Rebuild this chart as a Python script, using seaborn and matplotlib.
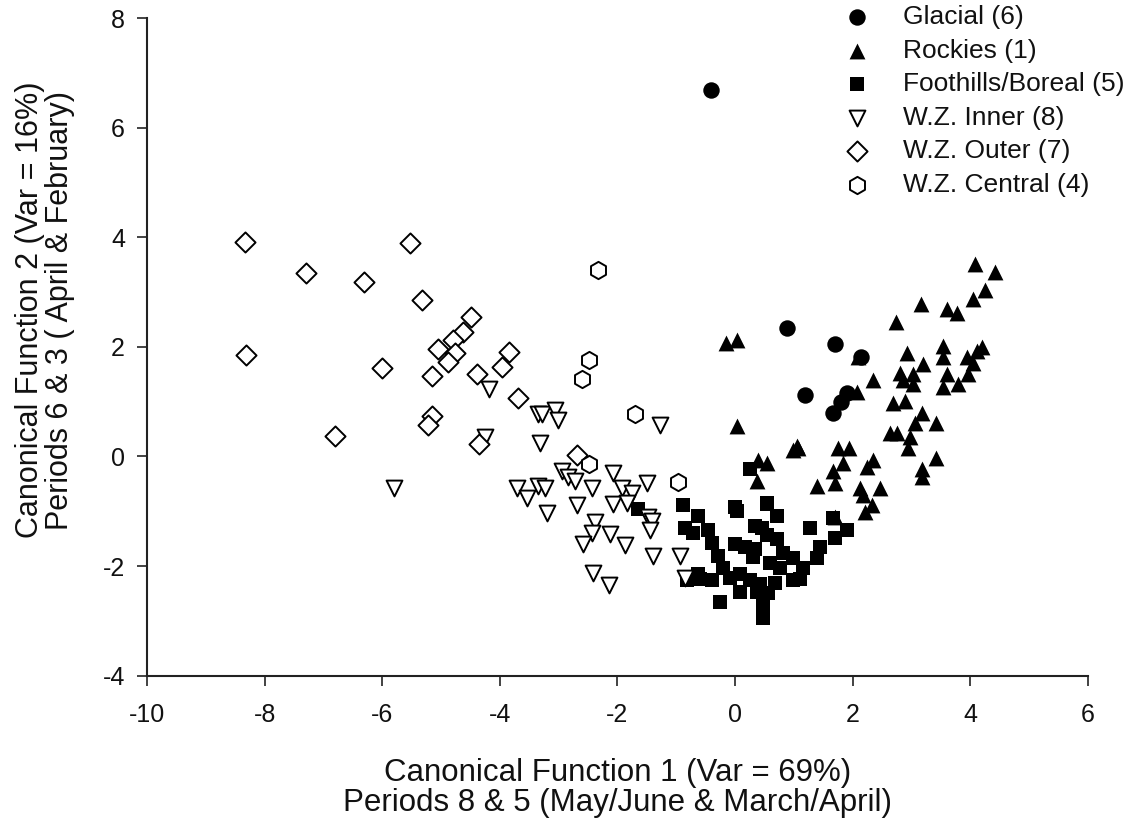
import numpy as np
import pandas as pd
import seaborn as sns
import matplotlib.pyplot as plt

# canonical scores, one pair of lists per group
glacial_x = [-0.41, 0.88, 1.70, 2.15, 1.19, 1.90, 1.80, 1.66]
glacial_y = [6.68, 2.35, 2.06, 1.82, 1.13, 1.16, 1.00, 0.80]

rockies_x = [4.08, 4.42, 4.25, 4.05, 3.61, 3.78, 3.16, 2.74, -0.15, 0.03, 0.03,
             2.09, 2.35, 2.07, 2.93, 2.81, 3.03, 3.20, 2.86, 3.03, 3.54, 3.54,
             3.61, 3.54, 3.79, 3.95, 4.12, 4.20, 4.05, 3.96, 2.69, 2.89, 3.18,
             3.06, 3.42, 2.64, 2.76, 2.98, 2.94, 3.42, 3.18, 3.18, 1.05, 0.99,
             1.75, 1.94, 1.84, 1.67, 1.39, 1.70, 2.35, 2.24, 2.13, 2.47, 2.18,
             2.33, 2.21, 0.39, 0.54, 0.37, 1.70, 1.07]
rockies_y = [3.52, 3.36, 3.03, 2.87, 2.70, 2.61, 2.79, 2.45, 2.08, 2.12, 0.55,
             1.81, 1.39, 1.17, 1.88, 1.53, 1.51, 1.68, 1.39, 1.33, 2.01, 1.81,
             1.51, 1.26, 1.33, 1.81, 1.93, 1.99, 1.70, 1.51, 0.97, 1.02, 0.80,
             0.62, 0.62, 0.42, 0.42, 0.35, 0.15, -0.02, -0.22, -0.38, 0.20, 0.11,
             0.16, 0.16, -0.11, -0.26, -0.53, -0.49, -0.07, -0.20, -0.57, -0.57, -0.71,
             -0.89, -1.02, -0.07, -0.11, -0.44, -1.11, 0.16]

foothills_x = [-0.88, -0.63, -0.85, -0.71, -0.46, -0.39, -0.29, -0.20, -0.60, -0.39,
               -0.09, -0.26, 0.09, 0.03, 0.00, 0.17, 0.34, 0.54, 0.71, 0.46, 0.54,
               0.71, 0.82, 0.99, 1.16, 1.11, 0.77, 0.60, 0.31, 0.09, 0.26, 0.43,
               0.56, 0.48, 0.48, 0.37, 0.68, 0.99, 1.28, 1.67, 1.90, 1.45, 1.39,
               1.70, -0.82, -0.63, 0.00, 0.54, 0.34, -1.65, 0.26]
foothills_y = [-0.89, -1.08, -1.30, -1.39, -1.35, -1.57, -1.81, -2.03, -2.23, -2.26,
               -2.21, -2.66, -2.48, -0.99, -1.59, -1.66, -1.68, -0.84, -1.08, -1.30, -1.44,
               -1.50, -1.77, -1.86, -2.03, -2.23, -2.03, -1.95, -1.84, -2.14, -2.26, -2.32,
               -2.50, -2.72, -2.94, -2.48, -2.30, -2.26, -1.31, -1.13, -1.35, -1.66, -1.86,
               -1.48, -2.26, -2.14, -0.93, -0.86, -1.26, -0.95, -0.22]

inner_x = [-4.18, -4.25, -5.80, -3.35, -3.28, -3.06, -3.01, -3.32, -1.28, -3.71,
           -3.54, -3.35, -3.23, -3.20, -2.94, -2.84, -2.72, -2.43, -2.69, -2.07,
           -1.92, -1.75, -1.50, -2.07, -1.84, -1.48, -1.41, -1.45, -2.38, -2.43,
           -2.59, -2.13, -1.87, -1.39, -0.94, -2.41, -2.14, -0.85]
inner_y = [1.24, 0.35, -0.57, 0.78, 0.78, 0.84, 0.66, 0.24, 0.57, -0.58,
           -0.75, -0.53, -0.57, -1.04, -0.26, -0.38, -0.44, -0.57, -0.89, -0.31,
           -0.58, -0.66, -0.49, -0.86, -0.84, -1.11, -1.17, -1.35, -1.20, -1.39,
           -1.59, -1.41, -1.62, -1.81, -1.81, -2.12, -2.35, -2.21]

outer_x = [-8.33, -5.53, -7.30, -6.31, -5.32, -4.49, -4.63, -4.80, -5.05, -4.76,
           -4.88, -8.32, -6.00, -5.15, -4.39, -3.84, -3.96, -6.80, -5.15, -5.22,
           -4.35, -3.69, -2.69]
outer_y = [3.91, 3.89, 3.34, 3.19, 2.85, 2.54, 2.28, 2.12, 1.97, 1.88,
           1.73, 1.86, 1.61, 1.46, 1.51, 1.90, 1.64, 0.38, 0.73, 0.58,
           0.22, 1.06, 0.02]

central_x = [-2.33, -2.48, -2.60, -1.70, -2.48, -0.97]
central_y = [3.41, 1.77, 1.41, 0.77, -0.13, -0.47]

groups = ["Glacial (6)", "Rockies (1)", "Foothills/Boreal (5)",
          "W.Z. Inner (8)", "W.Z. Outer (7)", "W.Z. Central (4)"]
xs = [glacial_x, rockies_x, foothills_x, inner_x, outer_x, central_x]
ys = [glacial_y, rockies_y, foothills_y, inner_y, outer_y, central_y]
markers = ["o", "^", "s", "v", "D", "h"]
filled = [True, True, True, False, False, False]
sizes = [140, 130, 115, 130, 105, 155]

df = pd.concat([pd.DataFrame({"cf1": x, "cf2": y, "group": g})
                for g, x, y in zip(groups, xs, ys)], ignore_index=True)

sns.set_style("ticks")
plt.rcParams["font.family"] = ["Liberation Sans", "DejaVu Sans"]
plt.rcParams["axes.unicode_minus"] = False
plt.rcParams["text.color"] = "#111111"
plt.rcParams["axes.labelcolor"] = "#111111"
plt.rcParams["xtick.labelcolor"] = "#111111"
plt.rcParams["ytick.labelcolor"] = "#111111"

fig = plt.figure(figsize=(11.33, 8.24), dpi=100)
ax = fig.add_axes([0.130, 0.180, 0.830, 0.798])

for g, m, f, s in zip(groups, markers, filled, sizes):
    sub = df[df["group"] == g]
    sns.scatterplot(data=sub, x="cf1", y="cf2", ax=ax, marker=m, s=s,
                    color="black" if f else "white", edgecolor="black",
                    linewidth=0 if f else 1.4, label=g, zorder=3)

ax.set_xlim(-10, 6)
ax.set_ylim(-4, 8)
ax.set_xticks(np.arange(-10, 7, 2))
ax.set_yticks(np.arange(-4, 9, 2))
ax.tick_params(axis="both", labelsize=18, length=7, width=1.2, color="#222222",
               direction="out")
ax.tick_params(axis="x", pad=13)
ax.tick_params(axis="y", pad=9)
for sp in ["left", "bottom"]:
    ax.spines[sp].set_linewidth(1.5)
    ax.spines[sp].set_color("#222222")
sns.despine(ax=ax)

ax.set_xlabel("Canonical Function 1 (Var = 69%)\nPeriods 8 & 5 (May/June & March/April)",
              fontsize=22.5, labelpad=22, linespacing=1.0)
ax.set_ylabel("Canonical Function 2 (Var = 16%)\nPeriods 6 & 3 ( April & February)",
              fontsize=22, linespacing=1.0)
ax.yaxis.set_label_coords(-0.077, 0.556)

leg = ax.legend(loc="upper left", bbox_to_anchor=(0.7284, 1.0),
                bbox_transform=fig.transFigure, frameon=False, fontsize=19,
                handletextpad=0.75, labelspacing=0.36, borderpad=0.2,
                borderaxespad=0, handlelength=2.0, markerscale=1.0)

fig.savefig("out.png", dpi=100)
